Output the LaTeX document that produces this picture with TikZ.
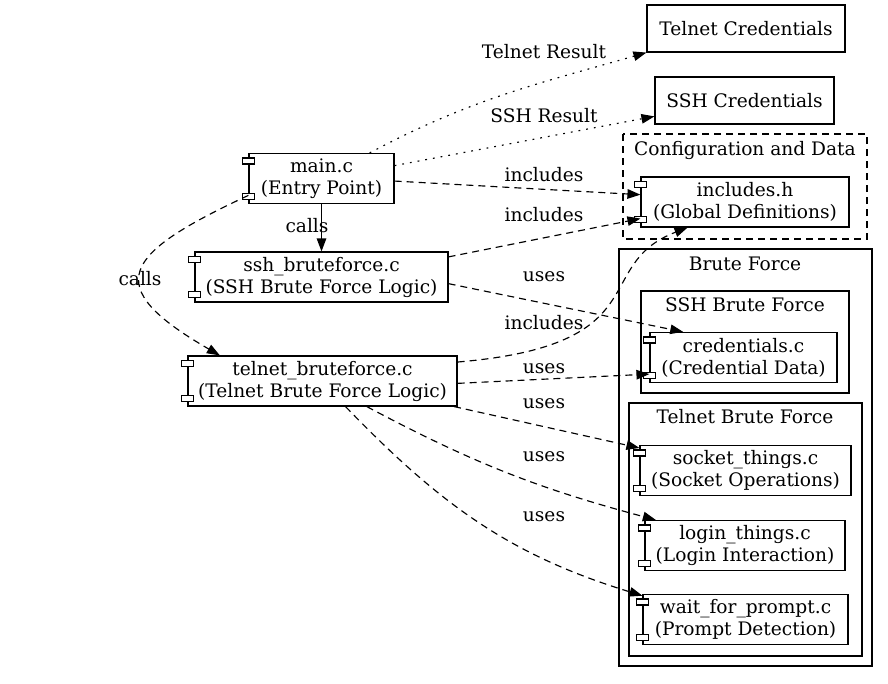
\documentclass[tikz,border=0pt]{standalone}
\usepackage{fontspec}
\setmainfont{DejaVu Serif}
\usetikzlibrary{arrows.meta,calc}

\tikzset{
  box/.style={draw, minimum height=47pt, inner sep=2pt, align=center, font=\fontsize{18.6}{22}\selectfont},
  comp/.style={box, minimum height=50pt},
  lbl/.style={inner sep=0pt, font=\fontsize{18.6}{22}\selectfont},
  tip/.style={-{Triangle[length=13pt,width=9.5pt]}},
  dep/.style={tip, dash pattern=on 7pt off 5pt},
  res/.style={tip, dash pattern=on 1.8pt off 6pt},
}

\begin{document}
\begin{tikzpicture}[x=1pt,y=1pt,line width=1.15pt]
\useasboundingbox (0,0) rectangle (888,-683);

% clusters
\draw[dash pattern=on 7pt off 5pt] (623,-134) rectangle (867,-239);
\node[lbl] (cfgtitle) at (745,-150) {Configuration and Data};
\draw (619,-249) rectangle (872,-666);
\node[lbl] (bftitle) at (745,-264) {Brute Force};
\draw (641,-291) rectangle (849,-393);
\node[lbl] (sshtitle) at (745,-305) {SSH Brute Force};
\draw (629,-403) rectangle (862,-656);
\node[lbl] (teltitle) at (745,-417) {Telnet Brute Force};

% result files (top right)
\node[box, minimum width=198pt] (telcred) at (746,-28.5) {Telnet Credentials};
\node[box, minimum width=179pt] (sshcred) at (744.5,-100.5) {SSH Credentials};

% components in the clusters
\node[comp, minimum width=208pt] (inch) at (745,-202) {includes.h\\(Global Definitions)};
\node[comp, minimum width=187pt] (credc) at (743.5,-357.5) {credentials.c\\(Credential Data)};
\node[comp, minimum width=211pt] (sockc) at (745.5,-470.5) {socket\_things.c\\(Socket Operations)};
\node[comp, minimum width=200pt] (loginc) at (745,-545.5) {login\_things.c\\(Login Interaction)};
\node[comp, minimum width=205pt] (waitc) at (745.5,-619.5) {wait\_for\_prompt.c\\(Prompt Detection)};

% components on the left
\node[comp, minimum width=145pt] (mainc) at (321.5,-178.5) {main.c\\(Entry Point)};
\node[comp, minimum width=253pt] (sshbf) at (321.5,-277) {ssh\_bruteforce.c\\(SSH Brute Force Logic)};
\node[comp, minimum width=269pt] (telbf) at (322.5,-381) {telnet\_bruteforce.c\\(Telnet Brute Force Logic)};

% component tabs on the left edge
\foreach \n in {inch,credc,sockc,loginc,waitc,mainc,sshbf,telbf} {
  \draw[fill=white] ($(\n.north west)+(-6,-5)$) rectangle ++(12,-6);
  \draw[fill=white] ($(\n.south west)+(-6,5)$) rectangle ++(12,6);
}

% main.c
\draw[res] (mainc.28) to[out=28,in=196] (telcred.south west);
\draw[res] (mainc.10.5) -- (sshcred.190.6);
\draw[dep] (mainc.-2.8) -- (inch.176.2);
\draw[tip] (mainc) -- (sshbf);
\draw[dep] (mainc.193.4) to[out=205,in=150,looseness=2.2] (telbf.166.5);

% ssh_bruteforce.c
\draw[dep] (sshbf.9.9) -- (inch.189.8);
\draw[dep] (sshbf.-3.6) -- (credc.157.5);

% telnet_bruteforce.c
\draw[dep] (telbf.8) .. controls (660,-345) and (590,-265) .. (inch.204);
\draw[dep] (telbf.-1.7) -- (credc.190.4);
\draw[dep] (telbf.-11.5) -- (sockc.168);
\draw[dep] (telbf.-30.5) to[out=-28,in=165] (loginc.164);
\draw[dep] (telbf.-48) to[out=-46,in=163] (waitc.167);

% edge labels
\node[lbl] (lTelRes) at (544,-52) {Telnet Result};
\node[lbl] (lSshRes) at (544,-116) {SSH Result};
\node[lbl] (lInc1) at (544,-175) {includes};
\node[lbl] (lInc2) at (544,-215) {includes};
\node[lbl] (lUse1) at (544,-277) {uses};
\node[lbl] (lInc3) at (544,-323) {includes};
\node[lbl] (lUse2) at (544,-369) {uses};
\node[lbl] (lUse3) at (544,-404) {uses};
\node[lbl] (lUse4) at (544,-457) {uses};
\node[lbl] (lUse5) at (544,-517) {uses};
\node[lbl] (lCall1) at (307,-226) {calls};
\node[lbl] (lCall2) at (140,-279) {calls};

\end{tikzpicture}
\end{document}
